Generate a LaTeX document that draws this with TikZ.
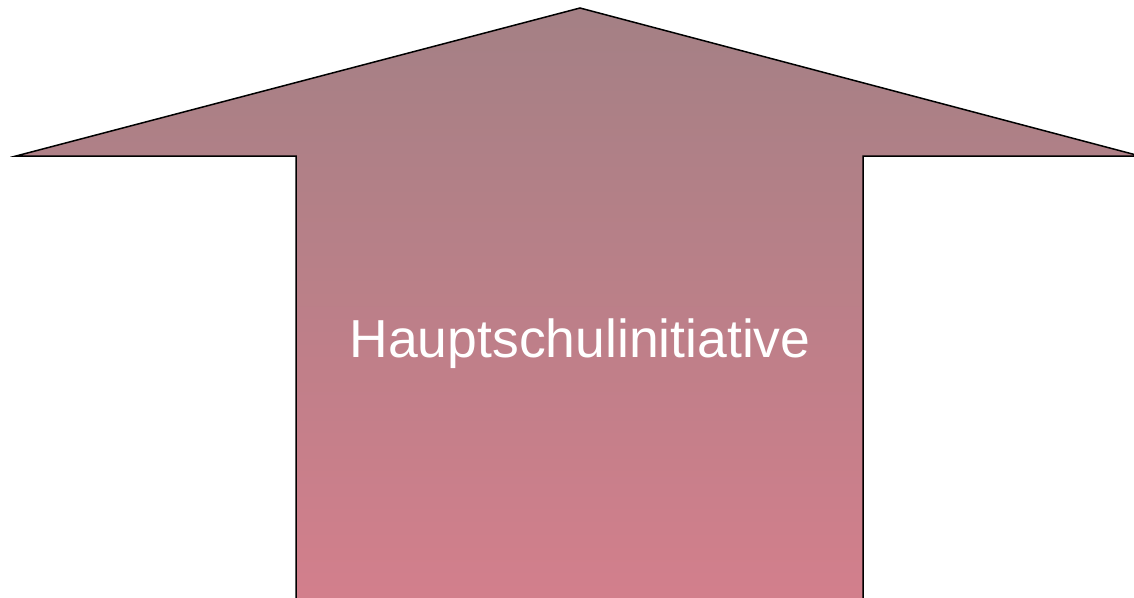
\documentclass[tikz,border=0pt]{standalone}
\usepackage{fontspec}
\setmainfont{Liberation Sans}
\definecolor{arrowtop}{RGB}{164,128,133}
\definecolor{arrowbottom}{RGB}{211,127,140}

\begin{document}
\begin{tikzpicture}[x=1pt,y=-1pt]
\tikzset{bigarrow/.style = {draw=black,line width=1.5pt,line join=miter,top color=arrowtop,bottom color=arrowbottom}}
\tikzset{label/.style = {text=white,font=\fontsize{53.5}{60}\selectfont,inner sep=0pt}}
\useasboundingbox (0,0) rectangle (1134,597);
\coordinate (tip) at (580,8);
\coordinate (wl) at (16,156);
\coordinate (wr) at (1140,156);
\coordinate (sl) at (296,156);
\coordinate (sr) at (863,156);

\draw[bigarrow] (tip) -- (wr) -- (sr) -- (863,604) -- (296,604) -- (sl) -- (wl) -- cycle;
\node[label] (title) at (580,344) {Hauptschulinitiative};
\end{tikzpicture}
\end{document}
